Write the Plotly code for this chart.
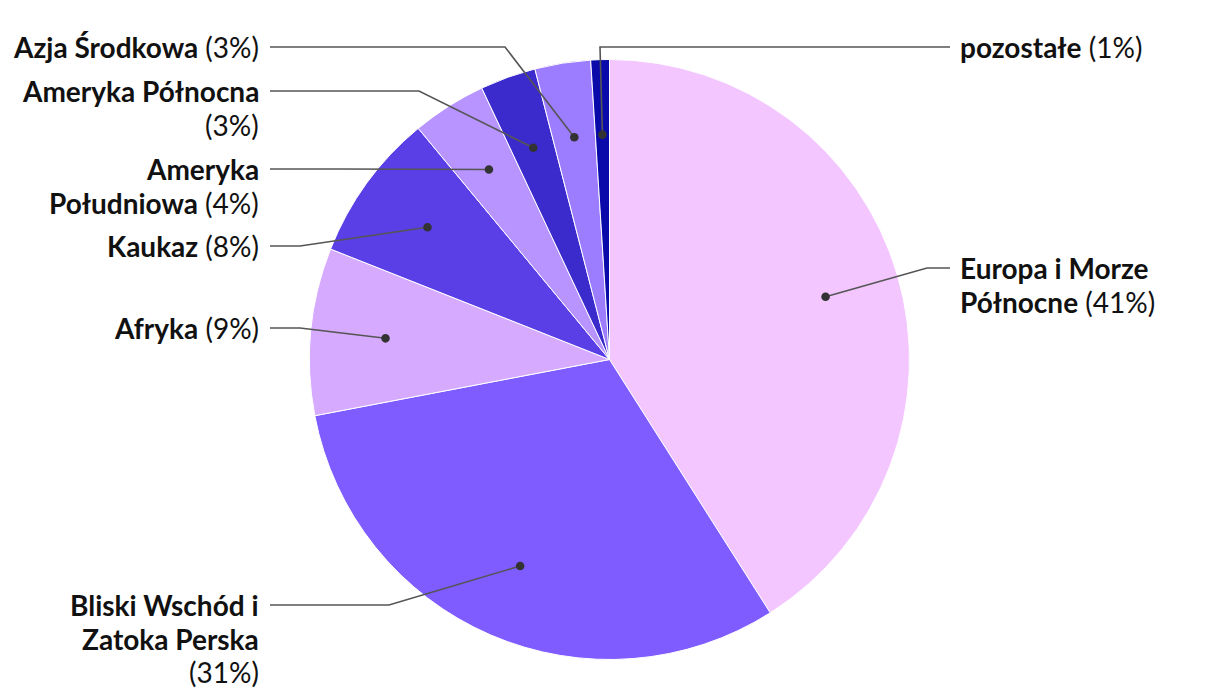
import math
import plotly.graph_objects as go

# ---- data ----
categories = [
    "Europa i Morze Północne",
    "Bliski Wschód i Zatoka Perska",
    "Afryka",
    "Kaukaz",
    "Ameryka Południowa",
    "Ameryka Północna",
    "Azja Środkowa",
    "pozostałe",
]
values = [41, 31, 9, 8, 4, 3, 3, 1]
# label text split into lines (bold name lines)
name_lines = [
    ["Europa i Morze", "Północne"],
    ["Bliski Wschód i", "Zatoka Perska"],
    ["Afryka"],
    ["Kaukaz"],
    ["Ameryka", "Południowa"],
    ["Ameryka Północna"],
    ["Azja Środkowa"],
    ["pozostałe"],
]
pct_on_new_line = [False, True, False, False, False, True, False, False]

# ---- styles / layout ----
colors = ["#f3c6ff", "#7f5cff", "#d5aaff", "#5b3fe6", "#b794ff", "#3b2bcc", "#9c7cff", "#0a0aaa"]
OFF = 8                      # page body margin
PW, PH = 1220, 700           # visible page size
W, H = PW - OFF, PH - OFF    # figure size
CX, CY, R = 609.5, 359.5, 300
DOT_R = 0.75
label_side = ["right", "left", "left", "left", "left", "left", "left", "right"]
label_y = [268, 605, 328, 246, 169, 91, 47, 47]
elbow_x = [927, 389, 300, 300, 341, 419, 505, 600]
LEFT_END, RIGHT_END = 270, 950
LEFT_TEXT, RIGHT_TEXT = 261, 958
FONT = "Lato"
FS = 28
LINE_H = 33.5

fig = go.Figure()

fig.add_trace(go.Pie(
    labels=categories,
    values=values,
    sort=False,
    direction="clockwise",
    rotation=0,
    textinfo="none",
    hoverinfo="label+percent",
    marker=dict(colors=colors, line=dict(color="white", width=1)),
    showlegend=False,
    domain=dict(x=[(CX - R - OFF) / W, (CX + R - OFF) / W],
                y=[(PH - CY - R) / H, (PH - CY + R) / H]),
))
# invisible trace to activate the cartesian axes used for the leader lines
fig.add_trace(go.Scatter(x=[OFF], y=[OFF], mode="markers", marker=dict(opacity=0),
                         hoverinfo="skip", showlegend=False))

total = sum(values)
cum = 0
shapes = []
annotations = []
for i, v in enumerate(values):
    mid = (cum + v / 2) / total
    cum += v
    th = 2 * math.pi * mid
    dx = CX + DOT_R * R * math.sin(th)
    dy = CY - DOT_R * R * math.cos(th)
    ly = label_y[i]
    right = label_side[i] == "right"
    end = RIGHT_END if right else LEFT_END
    path = f"M {end},{ly} L {elbow_x[i]},{ly} L {dx:.2f},{dy:.2f}"
    shapes.append(dict(type="path", path=path, xref="x", yref="y", layer="above",
                       line=dict(color="#555555", width=1.6)))
    shapes.append(dict(type="circle", xref="x", yref="y", xsizemode="pixel", ysizemode="pixel",
                       xanchor=dx, yanchor=dy, x0=-4.3, x1=4.3, y0=-4.3, y1=4.3, layer="above",
                       fillcolor="#333333", line=dict(width=0)))
    lines = [f"<b>{t}</b>" for t in name_lines[i]]
    pct = f"({v}%)"
    if pct_on_new_line[i]:
        lines.append(pct)
    else:
        lines[-1] = lines[-1] + " " + pct
    for k, txt in enumerate(lines):
        annotations.append(dict(
            x=RIGHT_TEXT if right else LEFT_TEXT,
            y=ly + k * LINE_H,
            xref="x", yref="y",
            xanchor="left" if right else "right",
            yanchor="middle",
            align="left" if right else "right",
            text=txt,
            showarrow=False,
            font=dict(family=FONT, size=FS, color="#111111"),
        ))

fig.update_layout(
    width=W, height=H,
    margin=dict(l=0, r=0, t=0, b=0),
    paper_bgcolor="white", plot_bgcolor="rgba(0,0,0,0)",
    xaxis=dict(range=[OFF, PW], visible=False, fixedrange=True),
    yaxis=dict(range=[PH, OFF], visible=False, fixedrange=True),
    shapes=shapes,
    annotations=annotations,
    font=dict(family=FONT),
)

fig.write_html("out.html")
